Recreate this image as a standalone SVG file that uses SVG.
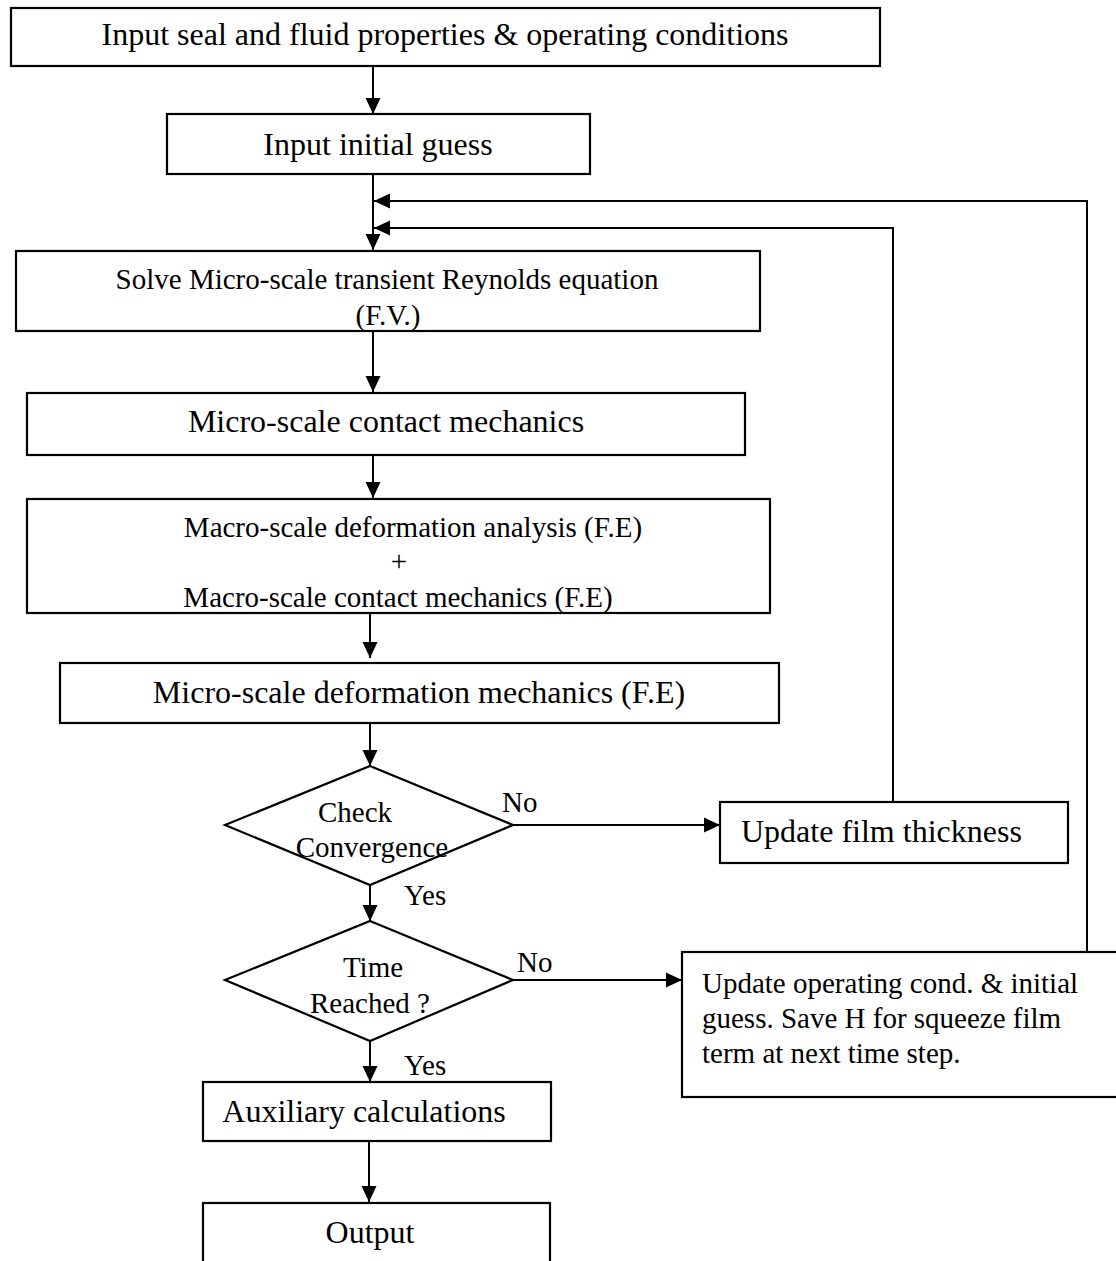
<svg xmlns="http://www.w3.org/2000/svg" width="1116" height="1261" viewBox="0 0 1116 1261">
<style>
.box{fill:#fff;stroke:#000;stroke-width:2.2}
.t{font-family:"Liberation Serif","Times New Roman",serif;fill:#000}
.l{font-size:32px}
.s{font-size:29px}
.c{text-anchor:middle}
.conn{fill:none;stroke:#000;stroke-width:2}
</style>
<defs>
<marker id="ah" markerUnits="userSpaceOnUse" markerWidth="18" markerHeight="18" viewBox="0 0 18 18" refX="16" refY="9" orient="auto">
<path d="M0,1.5 L16,9 L0,16.5 Z" fill="#000"/>
</marker>
</defs>
<rect width="1116" height="1261" fill="#fff"/>
<g id="connectors">
<path class="conn" d="M373,66 V114" marker-end="url(#ah)"/>
<path class="conn" d="M373,174 V250" marker-end="url(#ah)"/>
<path class="conn" d="M1087,952 V201 H374" marker-end="url(#ah)"/>
<path class="conn" d="M893,802 V228 H374" marker-end="url(#ah)"/>
<path class="conn" d="M373,331 V392" marker-end="url(#ah)"/>
<path class="conn" d="M373,455 V498" marker-end="url(#ah)"/>
<path class="conn" d="M370,613 V658" marker-end="url(#ah)"/>
<path class="conn" d="M370,723 V766" marker-end="url(#ah)"/>
<path class="conn" d="M505,825 H720" marker-end="url(#ah)"/>
<path class="conn" d="M370,885 V921" marker-end="url(#ah)"/>
<path class="conn" d="M505,980 H682" marker-end="url(#ah)"/>
<path class="conn" d="M370,1041 V1082" marker-end="url(#ah)"/>
<path class="conn" d="M369,1141 V1202" marker-end="url(#ah)"/>
</g>
<g id="n1"><rect class="box" x="11" y="8" width="869" height="58"/>
<text class="t l c" x="445" y="45">Input seal and fluid properties &amp; operating conditions</text></g>
<g id="n2"><rect class="box" x="167" y="114" width="423" height="60"/>
<text class="t l c" x="378" y="155">Input initial guess</text></g>
<g id="n3"><rect class="box" x="16" y="251" width="744" height="80"/>
<text class="t s c" x="387" y="289">Solve Micro-scale transient Reynolds equation</text>
<text class="t s c" x="388" y="325">(F.V.)</text></g>
<g id="n4"><rect class="box" x="27" y="393" width="718" height="62"/>
<text class="t l c" x="386" y="432">Micro-scale contact mechanics</text></g>
<g id="n5"><rect class="box" x="27" y="499" width="743" height="114"/>
<text class="t s c" x="413" y="537">Macro-scale deformation analysis (F.E)</text>
<text class="t s c" x="399" y="571">+</text>
<text class="t s c" x="398" y="607">Macro-scale contact mechanics (F.E)</text></g>
<g id="n6"><rect class="box" x="60" y="663" width="719" height="60"/>
<text class="t l c" x="419" y="703">Micro-scale deformation mechanics (F.E)</text></g>
<g id="d1"><polygon class="box" points="370,766 513,825 370,885 225,825"/>
<text class="t s c" x="355" y="822">Check</text>
<text class="t s c" x="372" y="857">Convergence</text></g>
<g id="n7"><rect class="box" x="720" y="802" width="348" height="61"/>
<text class="t l" x="741" y="842">Update film thickness</text></g>
<g id="d2"><polygon class="box" points="370,921 513,980 370,1041 225,980"/>
<text class="t s c" x="373" y="977">Time</text>
<text class="t s c" x="370" y="1013">Reached ?</text></g>
<g id="n8"><rect class="box" x="682" y="952" width="440" height="145"/>
<text class="t s" x="702" y="993">Update operating cond. &amp; initial</text>
<text class="t s" x="702" y="1028">guess. Save H for squeeze film</text>
<text class="t s" x="702" y="1063">term at next time step.</text></g>
<g id="n9"><rect class="box" x="203" y="1082" width="348" height="59"/>
<text class="t l c" x="364" y="1122">Auxiliary calculations</text></g>
<g id="n10"><rect class="box" x="203" y="1203" width="347" height="70"/>
<text class="t l c" x="370" y="1243">Output</text></g>
<g id="labels">
<text class="t s" x="502" y="812">No</text>
<text class="t s" x="404" y="905">Yes</text>
<text class="t s" x="517" y="972">No</text>
<text class="t s" x="404" y="1075">Yes</text>
</g>
</svg>
